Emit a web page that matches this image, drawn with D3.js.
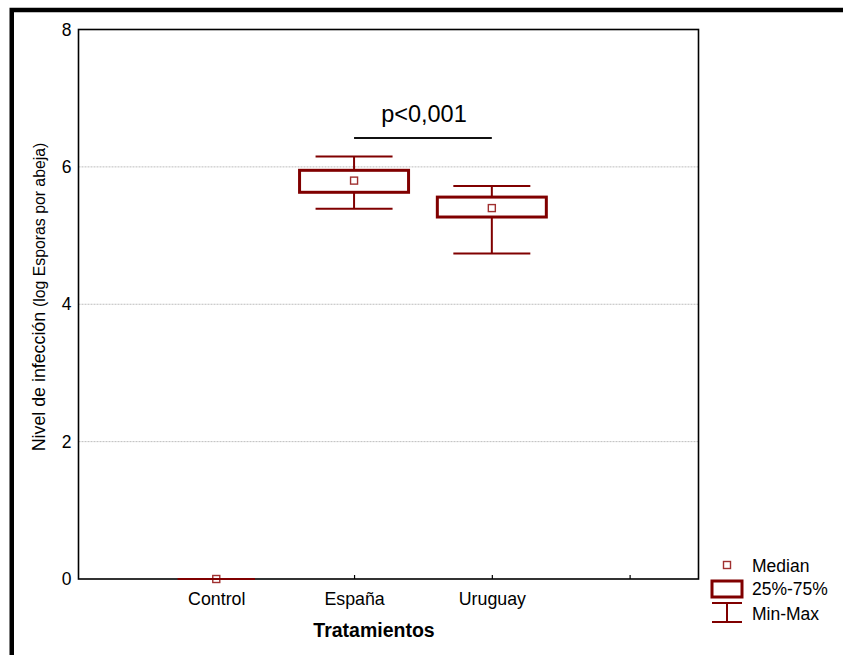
<!DOCTYPE html>
<html>
<head>
<meta charset="utf-8">
<script src="https://cdn.jsdelivr.net/npm/d3@7"></script>
<style>
  html, body { margin: 0; padding: 0; background: #fff; }
  svg { display: block; }
  text { font-family: "Liberation Sans", Arial, sans-serif; fill: #000; }
</style>
</head>
<body>
<div id="chart"></div>
<script>
// ---- data ----
const categories = ["Control", "España", "Uruguay"];
const minValues    = [0, 5.39, 4.74];
const q1Values     = [0, 5.63, 5.27];
const medianValues = [0, 5.80, 5.40];
const q3Values     = [0, 5.95, 5.56];
const maxValues    = [0, 6.15, 5.72];
const yTickValues  = [0, 2, 4, 6, 8];
const xTickPositions = [1, 2, 3, 4];
const legendLabels = ["Median", "25%-75%", "Min-Max"];
const sigLabel = "p<0,001";
const sigFrom = 2, sigTo = 3, sigLevel = 6.42;

const W = 843, H = 655;
const dark = "#800000";
const svg = d3.select("#chart").append("svg").attr("width", W).attr("height", H);

// outer frame
svg.append("rect").attr("x", 11.75).attr("y", 10).attr("width", 900).attr("height", 900)
  .attr("fill", "none").attr("stroke", "#000").attr("stroke-width", 4.5);

const plot = { left: 78.5, right: 698.5, top: 29.5, bottom: 579 };
const x = d3.scaleLinear().domain([0, 4.5]).range([plot.left, plot.right]);
const y = d3.scaleLinear().domain([0, 8]).range([plot.bottom, plot.top]);

// gridlines
svg.append("g").selectAll("line").data(yTickValues.filter(v => v > 0 && v < 8)).join("line")
  .attr("x1", plot.left).attr("x2", plot.right)
  .attr("y1", d => y(d)).attr("y2", d => y(d))
  .attr("stroke", "#bdbdbd").attr("stroke-width", 1).attr("stroke-dasharray", "2,1");

// y axis
const yAxis = svg.append("g").attr("transform", `translate(${plot.left},0)`)
  .call(d3.axisLeft(y).tickValues(yTickValues).tickSize(0).tickPadding(7).tickFormat(d3.format("d")));
yAxis.select(".domain").remove();
yAxis.selectAll("text").style("font-size", "17.5px").attr("font-family", "Liberation Sans, Arial, sans-serif");

// x axis
const xAxis = svg.append("g").attr("transform", `translate(0,${plot.bottom})`)
  .call(d3.axisBottom(x).tickValues(xTickPositions).tickSize(-4).tickPadding(13)
    .tickFormat(d => categories[d - 1] || ""));
xAxis.select(".domain").remove();
xAxis.selectAll("line").attr("stroke", "#000").attr("stroke-width", 1.2);
xAxis.selectAll("text").style("font-size", "17.8px").attr("font-family", "Liberation Sans, Arial, sans-serif");

// plot frame
svg.append("rect").attr("x", plot.left).attr("y", plot.top)
  .attr("width", plot.right - plot.left).attr("height", plot.bottom - plot.top)
  .attr("fill", "none").attr("stroke", "#000").attr("stroke-width", 1.6);

// boxes
const boxW = 109, capW = 77, medS = 7;
const data = categories.map((c, i) => ({
  c, pos: i + 1, min: minValues[i], q1: q1Values[i], med: medianValues[i], q3: q3Values[i], max: maxValues[i]
}));
const g = svg.append("g");
data.forEach(d => {
  const cx = x(d.pos);
  const gg = g.append("g");
  gg.append("line").attr("x1", cx).attr("x2", cx).attr("y1", y(d.max)).attr("y2", y(d.q3))
    .attr("stroke", dark).attr("stroke-width", 2);
  gg.append("line").attr("x1", cx).attr("x2", cx).attr("y1", y(d.q1)).attr("y2", y(d.min))
    .attr("stroke", dark).attr("stroke-width", 2);
  if (d.q3 > d.q1) {
    gg.append("rect").attr("x", cx - boxW / 2).attr("y", y(d.q3))
      .attr("width", boxW).attr("height", y(d.q1) - y(d.q3))
      .attr("fill", "#fff").attr("stroke", dark).attr("stroke-width", 3);
  }
  gg.append("rect").attr("x", cx - medS / 2).attr("y", y(d.med) - medS / 2)
    .attr("width", medS).attr("height", medS)
    .attr("fill", "#fff").attr("stroke", "#a03030").attr("stroke-width", 1.4);
  [d.max, d.min].forEach(v => {
    gg.append("line").attr("x1", cx - capW / 2).attr("x2", cx + capW / 2)
      .attr("y1", y(v)).attr("y2", y(v)).attr("stroke", dark).attr("stroke-width", 2);
  });
});

// significance
svg.append("line").attr("x1", x(sigFrom)).attr("x2", x(sigTo))
  .attr("y1", y(sigLevel)).attr("y2", y(sigLevel))
  .attr("stroke", "#111").attr("stroke-width", 2);
svg.append("text").attr("x", (x(sigFrom) + x(sigTo)) / 2 + 1).attr("y", y(sigLevel) - 16.5)
  .attr("text-anchor", "middle").style("font-size", "23.5px").text(sigLabel);

// axis titles
svg.append("text").attr("x", 374).attr("y", 637).attr("text-anchor", "middle")
  .style("font-size", "19.5px").style("font-weight", "bold").text("Tratamientos");
const yt = svg.append("text").attr("transform", "translate(45,297) rotate(-90)")
  .attr("text-anchor", "middle");
yt.append("tspan").style("font-size", "17.8px").text("Nivel de infección ");
yt.append("tspan").style("font-size", "15.8px").text("(log Esporas por abeja)");

// legend
const lx = 727, lTextX = 752;
const lg = svg.append("g");
lg.append("rect").attr("x", lx - 3.5).attr("y", 565 - 3.5).attr("width", 7).attr("height", 7)
  .attr("fill", "#fff").attr("stroke", "#a03030").attr("stroke-width", 1.4);
lg.append("rect").attr("x", 712).attr("y", 581).attr("width", 30).attr("height", 16)
  .attr("fill", "#fff").attr("stroke", dark).attr("stroke-width", 3);
lg.append("line").attr("x1", 712).attr("x2", 742).attr("y1", 603).attr("y2", 603).attr("stroke", dark).attr("stroke-width", 2);
lg.append("line").attr("x1", 712).attr("x2", 742).attr("y1", 622).attr("y2", 622).attr("stroke", dark).attr("stroke-width", 2);
lg.append("line").attr("x1", lx).attr("x2", lx).attr("y1", 603).attr("y2", 622).attr("stroke", dark).attr("stroke-width", 2);
lg.selectAll("text.leg").data(legendLabels).join("text").attr("class", "leg")
  .attr("x", lTextX).attr("y", (d, i) => [571.5, 595, 619.5][i])
  .style("font-size", "17.5px").text(d => d);
</script>
</body>
</html>
